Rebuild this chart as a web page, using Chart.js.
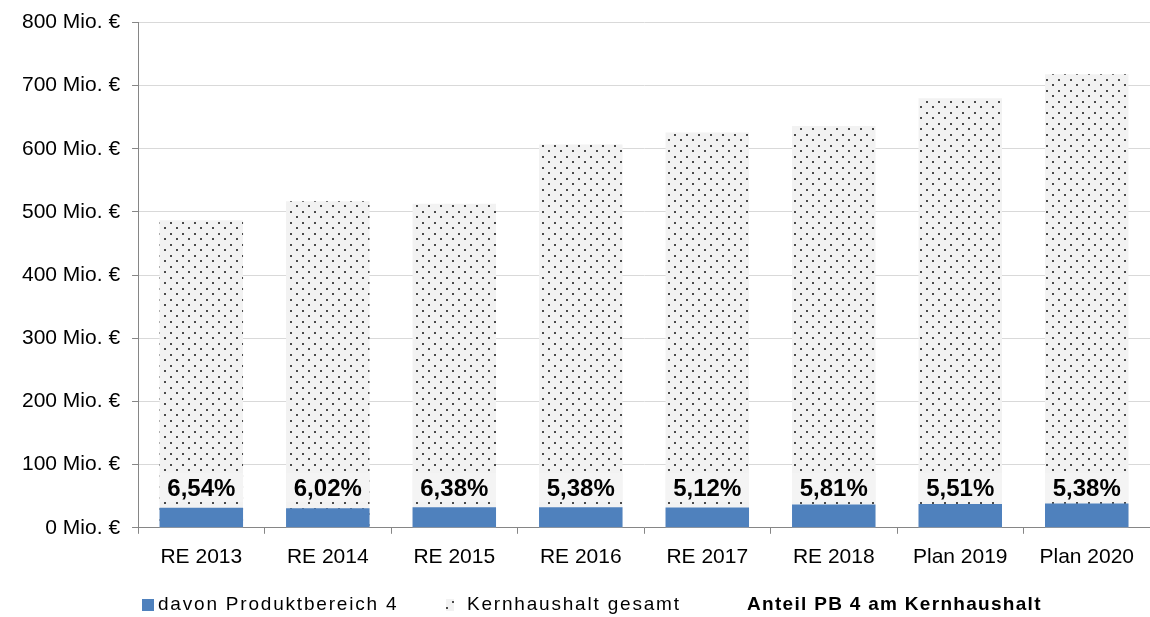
<!DOCTYPE html>
<html>
<head>
<meta charset="utf-8">
<script src="https://cdn.jsdelivr.net/npm/chart.js@4.4.0/dist/chart.umd.min.js"></script>
<style>
  html, body { margin: 0; padding: 0; background: #ffffff; }
  #wrap { width: 1150px; height: 617px; }
</style>
</head>
<body>
<div id="wrap"><canvas id="c" width="1150" height="617"></canvas></div>
<script>
const categories = ['RE 2013', 'RE 2014', 'RE 2015', 'RE 2016', 'RE 2017', 'RE 2018', 'Plan 2019', 'Plan 2020'];
const produktbereich4 = [31.8, 31.1, 32.7, 32.7, 32.0, 37.0, 37.5, 38.6];
const kernhaushalt = [487, 517, 513, 607, 626, 636, 680, 718];
const anteilPB4 = [6.54, 6.02, 6.38, 5.38, 5.12, 5.81, 5.51, 5.38];
const yTicks = [0, 100, 200, 300, 400, 500, 600, 700, 800];
const seriesNames = ['davon Produktbereich 4', 'Kernhaushalt gesamt', 'Anteil PB 4 am Kernhaushalt'];

const FONT = '"Liberation Sans", Arial, sans-serif';

function makePattern() {
  const p = document.createElement('canvas');
  p.width = 12; p.height = 11;
  const g = p.getContext('2d');
  g.fillStyle = '#f2f2f2';
  g.fillRect(0, 0, 12, 11);
  g.fillStyle = '#4a4a4a';
  g.fillRect(2, 2, 2, 2);
  g.fillRect(8, 7, 2, 2);
  return g.createPattern(p, 'repeat');
}
const ctx0 = document.getElementById('c').getContext('2d');
const pattern = makePattern();

const pctLabels = {
  id: 'pctLabels',
  afterDatasetsDraw(chart, args, opts) {
    const ctx = chart.ctx;
    const meta = chart.getDatasetMeta(0);
    const y = chart.scales.y.getPixelForValue(opts.atValue);
    ctx.save();
    meta.data.forEach((bar, i) => {
      ctx.fillStyle = '#f4f4f4';
      ctx.fillRect(bar.x - bar.width / 2, y - 15, bar.width, 29);
    });
    ctx.font = 'bold 24px ' + FONT;
    ctx.fillStyle = '#000';
    ctx.textAlign = 'center';
    ctx.textBaseline = 'middle';
    meta.data.forEach((bar, i) => {
      const txt = anteilPB4[i].toFixed(2).replace('.', ',') + '%';
      ctx.fillText(txt, bar.x, y + 1);
    });
    ctx.restore();
  }
};

const customLegend = {
  id: 'customLegend',
  afterDraw(chart) {
    const ctx = chart.ctx;
    const y = 605;
    ctx.save();
    ctx.textBaseline = 'middle';
    ctx.textAlign = 'left';
    ctx.fillStyle = '#4f81bd';
    ctx.fillRect(142, 599, 12, 12);
    ctx.fillStyle = '#000';
    ctx.font = '19px ' + FONT;
    ctx.letterSpacing = '1.8px';
    ctx.fillText(seriesNames[0], 158, y);
    ctx.fillStyle = pattern;
    ctx.fillRect(446, 599, 8, 12);
    ctx.fillStyle = '#000';
    ctx.fillText(seriesNames[1], 467, y);
    ctx.font = 'bold 19px ' + FONT;
    ctx.letterSpacing = '1.3px';
    ctx.fillText(seriesNames[2], 747, y);
    ctx.restore();
  }
};

new Chart(ctx0, {
  data: {
    labels: categories,
    datasets: [
      {
        type: 'bar',
        label: seriesNames[0],
        data: produktbereich4,
        backgroundColor: '#4f81bd',
        grouped: false,
        barPercentage: 0.66,
        categoryPercentage: 1.0
      },
      {
        type: 'bar',
        label: seriesNames[1],
        data: kernhaushalt,
        backgroundColor: pattern,
        grouped: false,
        barPercentage: 0.66,
        categoryPercentage: 1.0
      }
    ]
  },
  options: {
    responsive: false,
    animation: false,
    layout: { padding: { left: 10, right: 0, top: 0, bottom: 36 } },
    plugins: {
      legend: { display: false },
      tooltip: { enabled: false },
      pctLabels: { atValue: 63 }
    },
    scales: {
      x: {
        offset: true,
        grid: { display: true, drawOnChartArea: false, offset: true, tickLength: 6, tickColor: '#868686' },
        border: { color: '#868686', width: 1 },
        ticks: { color: '#000', font: { family: FONT, size: 21 }, padding: 11, maxRotation: 0 }
      },
      y: {
        min: 0, max: 800,
        afterBuildTicks(scale) { scale.ticks = yTicks.map(v => ({ value: v })); },
        grid: { color: '#d9d9d9', lineWidth: 1, tickLength: 6, tickColor: '#868686' },
        border: { color: '#868686', width: 1 },
        ticks: {
          color: '#000',
          font: { family: FONT, size: 21, lineHeight: 1.0 },
          padding: 12,
          callback: v => v + ' Mio. €'
        }
      }
    }
  },
  plugins: [pctLabels, customLegend]
});
</script>
</body>
</html>
